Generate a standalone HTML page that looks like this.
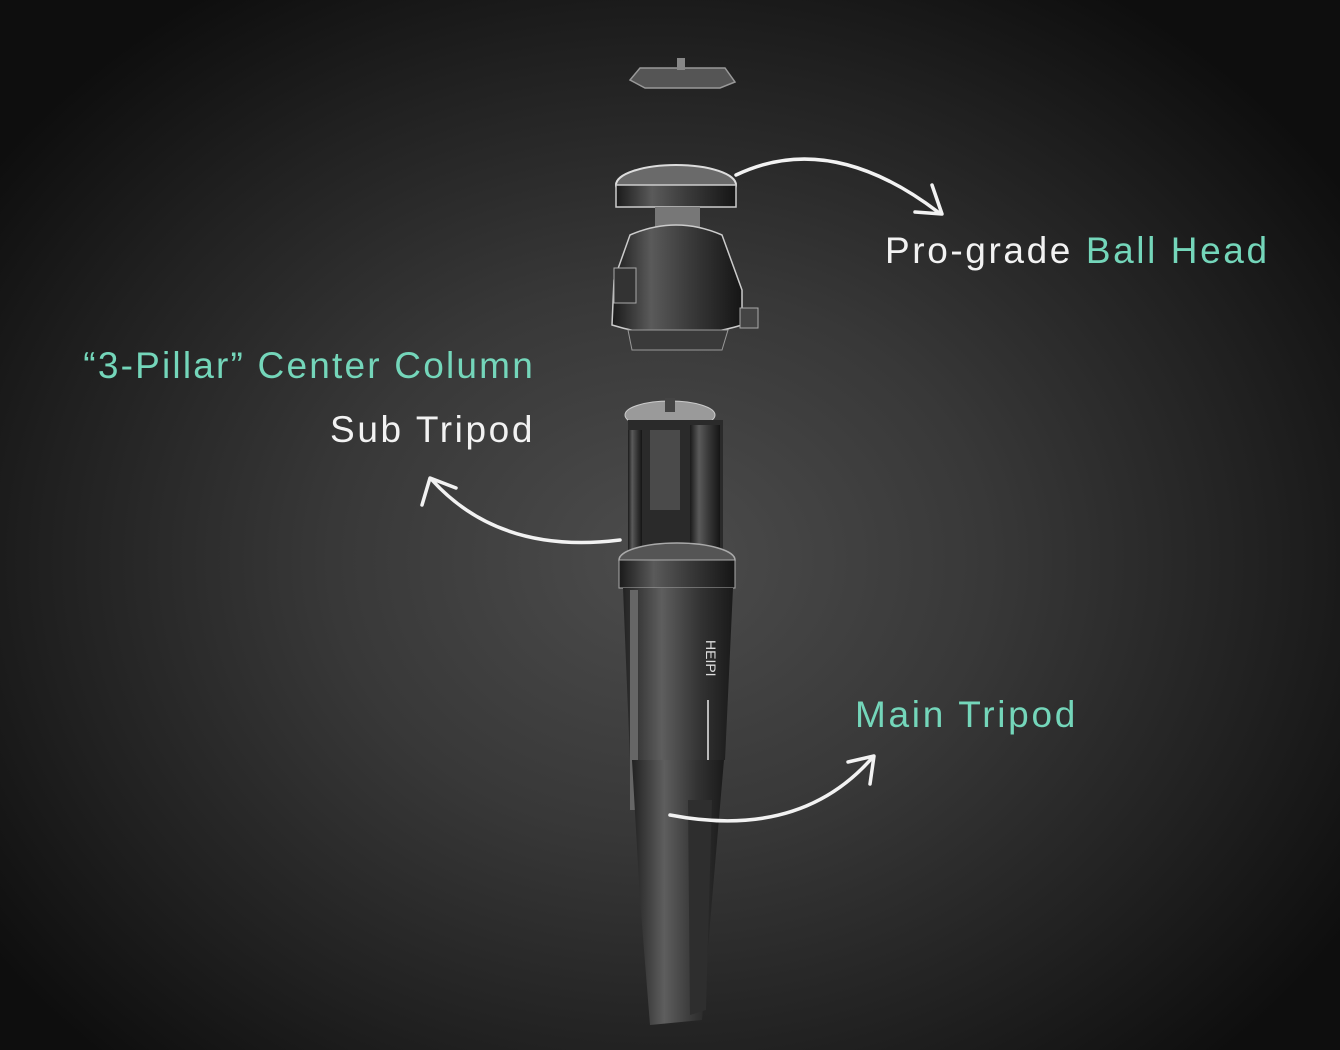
<!DOCTYPE html>
<html><head><style>
html,body{margin:0;padding:0}
body{width:1340px;height:1050px;overflow:hidden;background:radial-gradient(ellipse 820px 680px at 660px 560px,#4c4c4c 0%,#383838 40%,#202020 75%,#0e0e0e 100%);position:relative;font-family:"Liberation Sans",sans-serif}
.t{position:absolute;font-size:37px;white-space:nowrap;letter-spacing:2.2px}
.w{color:#f2f2f2}.g{color:#74d6ba}
svg{position:absolute;left:0;top:0}
</style></head><body>
<svg width="1340" height="1050" viewBox="0 0 1340 1050">
<defs>
<linearGradient id="m" x1="0" x2="1"><stop offset="0" stop-color="#1a1a1a"/><stop offset=".3" stop-color="#5a5a5a"/><stop offset=".6" stop-color="#3a3a3a"/><stop offset="1" stop-color="#151515"/></linearGradient>
<linearGradient id="l" x1="0" x2="1"><stop offset="0" stop-color="#222"/><stop offset=".35" stop-color="#5e5e5e"/><stop offset=".7" stop-color="#333"/><stop offset="1" stop-color="#1a1a1a"/></linearGradient>
</defs>
<polygon points="640,68 725,68 735,82 720,88 645,88 630,80" fill="#555" stroke="#999" stroke-width="1.5"/>
<rect x="677" y="58" width="8" height="12" fill="#888"/>
<ellipse cx="676" cy="185" rx="60" ry="20" fill="#6a6a6a" stroke="#ddd" stroke-width="2"/>
<rect x="616" y="185" width="120" height="22" fill="url(#m)" stroke="#ccc" stroke-width="1.5"/>
<rect x="655" y="207" width="45" height="22" fill="#777"/>
<path d="M630,235 Q676,215 722,235 L742,290 L742,325 Q676,345 612,325 L614,280 Z" fill="url(#m)" stroke="#ccc" stroke-width="1.5"/>
<rect x="614" y="268" width="22" height="35" fill="#333" stroke="#aaa"/>
<rect x="740" y="308" width="18" height="20" fill="#444" stroke="#aaa"/>
<path d="M628,330 L728,330 L722,350 L632,350 Z" fill="#3a3a3a" stroke="#999"/>
<ellipse cx="670" cy="415" rx="45" ry="14" fill="#9a9a9a" stroke="#ccc"/>
<rect x="665" y="398" width="10" height="14" fill="#444"/>
<rect x="628" y="420" width="95" height="130" fill="#2a2a2a"/>
<rect x="628" y="430" width="14" height="120" fill="url(#m)"/>
<rect x="690" y="425" width="30" height="125" fill="url(#m)"/>
<rect x="650" y="430" width="30" height="80" fill="#4a4a4a"/>
<ellipse cx="677" cy="560" rx="58" ry="17" fill="#555" stroke="#aaa" stroke-width="1.5"/>
<rect x="619" y="560" width="116" height="28" fill="url(#m)" stroke="#aaa"/>
<path d="M623,588 L733,588 L725,760 L630,760 Z" fill="url(#l)"/>
<rect x="630" y="590" width="8" height="220" fill="#666"/>
<line x1="708" y1="700" x2="708" y2="800" stroke="#bbb" stroke-width="2"/>
<text x="706" y="640" fill="#ddd" font-size="14" font-family="Liberation Sans" transform="rotate(90 706 640)">HEIPI</text>
<path d="M632,760 L724,760 L712,900 L702,1020 L650,1025 L640,900 Z" fill="url(#l)"/>
<path d="M688,800 L712,800 L706,1010 L690,1015 Z" fill="#2e2e2e"/>
<g fill="none" stroke="#f2f2f2" stroke-width="3.5" stroke-linecap="round" stroke-linejoin="round">
<path d="M736,175 Q830,130 938,212"/>
<path d="M915,212 L942,214 L932,185"/>
<path d="M620,540 Q500,555 432,480"/>
<path d="M422,505 L430,478 L456,488"/>
<path d="M670,815 Q800,840 872,758"/>
<path d="M848,762 L874,756 L870,784"/>
</g>
</svg>
<div class="t w" style="left:885px;top:230px;letter-spacing:2.6px">Pro-grade <span class="g">Ball Head</span></div>
<div class="t g" style="right:805px;top:345px">“3-Pillar” Center Column</div>
<div class="t w" style="right:805px;top:409px;letter-spacing:2.6px">Sub Tripod</div>
<div class="t g" style="left:855px;top:694px;letter-spacing:2.7px">Main Tripod</div>
</body></html>
